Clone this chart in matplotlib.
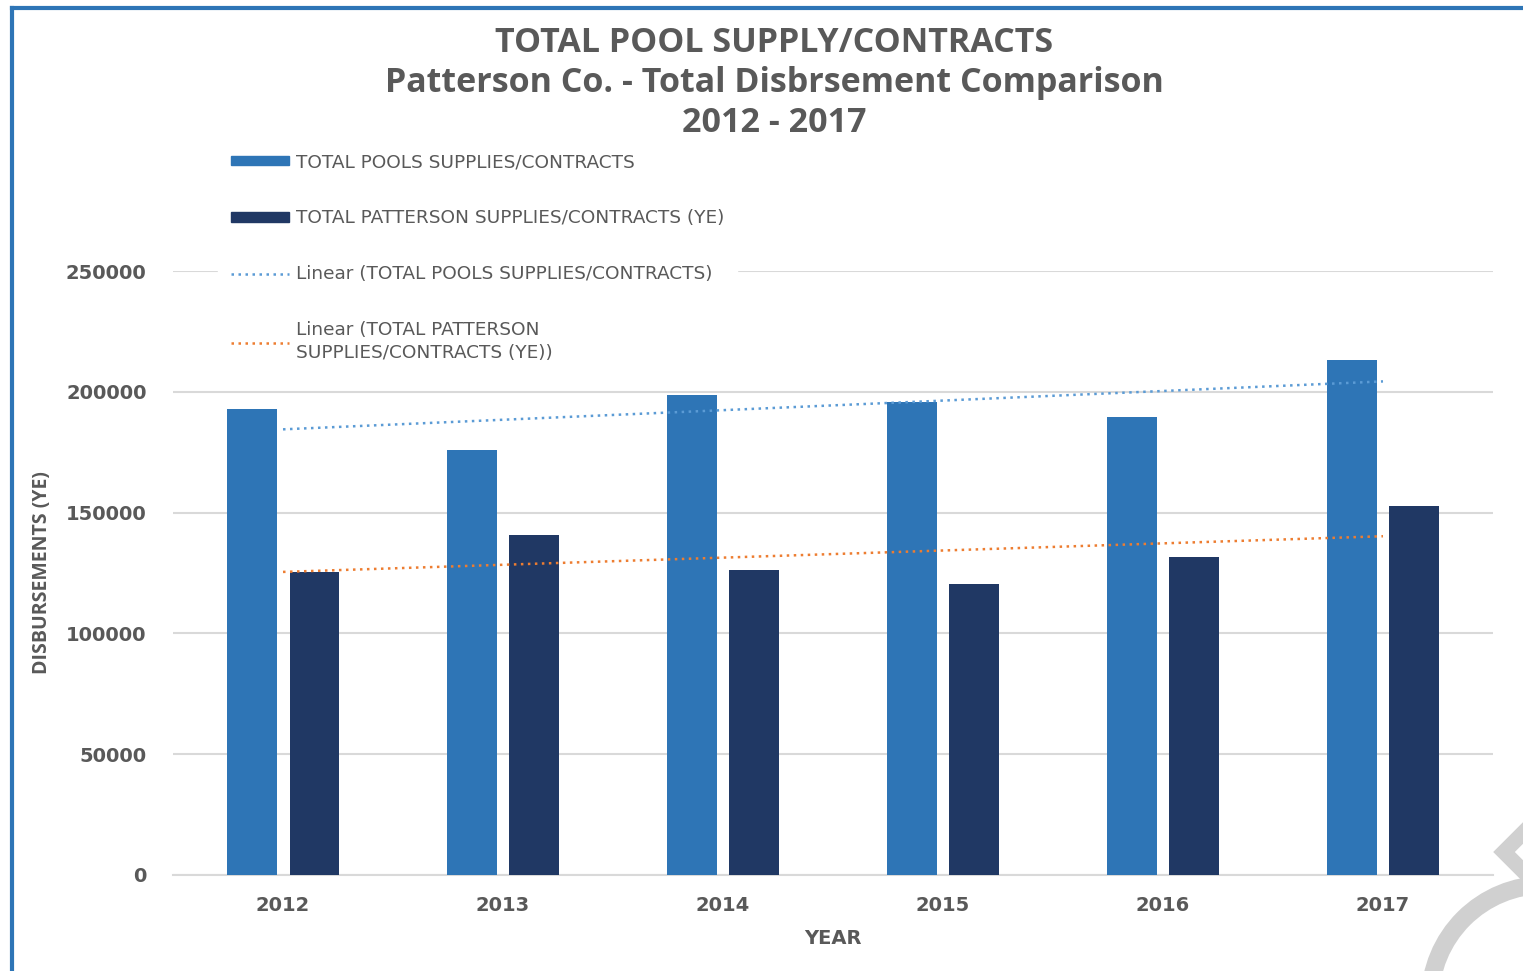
import numpy as np
import matplotlib
matplotlib.use('Agg')
import matplotlib.pyplot as plt
from matplotlib.lines import Line2D
from matplotlib.patches import Patch, Ellipse

# data
years = ['2012', '2013', '2014', '2015', '2016', '2017']
pools = [193000, 176000, 198700, 195800, 189600, 213200]
patterson = [125400, 140700, 126200, 120400, 131600, 152700]

title_lines = ['TOTAL POOL SUPPLY/CONTRACTS',
               'Patterson Co. - Total Disbrsement Comparison',
               '2012 - 2017']
label_pools = 'TOTAL POOLS SUPPLIES/CONTRACTS'
label_pat = 'TOTAL PATTERSON SUPPLIES/CONTRACTS (YE)'
label_lin_pools = 'Linear (TOTAL POOLS SUPPLIES/CONTRACTS)'
label_lin_pat = 'Linear (TOTAL PATTERSON\nSUPPLIES/CONTRACTS (YE))'

c_pools = '#2E75B6'
c_pat = '#203864'
c_tr_pools = '#5B9BD5'
c_tr_pat = '#ED7D31'
grey = '#595959'

fig = plt.figure(figsize=(15.23, 9.71), dpi=100)
ax = fig.add_axes([0.1136, 0.0989, 0.8667, 0.622])

x = np.arange(len(years))
w = 0.225
ax.bar(x - 0.142, pools, width=w, color=c_pools, zorder=3)
ax.bar(x + 0.142, patterson, width=w, color=c_pat, zorder=3)

# linear trendlines (least squares fit, like Excel)
k1, b1 = np.polyfit(x, pools, 1)
k2, b2 = np.polyfit(x, patterson, 1)
ax.plot(x, k1 * x + b1, color=c_tr_pools, lw=1.8, ls=(0, (1, 1.8)), zorder=4)
ax.plot(x, k2 * x + b2, color=c_tr_pat, lw=1.8, ls=(0, (1, 1.8)), zorder=4)

ax.set_xlim(-0.5, 5.5)
ax.set_ylim(0, 250000)
ax.set_yticks(range(0, 250001, 50000))
ax.set_xticks(x)
ax.set_xticklabels(years)
ax.grid(axis='y', color='#d9d9d9', lw=1.5, zorder=0)
for s in ['top', 'right', 'left']:
    ax.spines[s].set_visible(False)
ax.spines['bottom'].set_color('#d9d9d9')
ax.spines['bottom'].set_linewidth(1.5)
ax.tick_params(length=0, labelsize=14, labelcolor=grey)
ax.tick_params(axis='x', pad=15)
ax.tick_params(axis='y', pad=19)
for t in ax.get_xticklabels() + ax.get_yticklabels():
    t.set_fontweight('bold')

ax.set_ylabel('DISBURSEMENTS (YE)', fontsize=14, color=grey, family='Open Sans', fontweight='bold')
ax.yaxis.set_label_coords(-0.0917, 0.5)
ax.set_xlabel('YEAR', fontsize=14, color=grey, fontweight='bold')
ax.xaxis.set_label_coords(0.5, -0.089)

handles = [Patch(color=c_pools), Patch(color=c_pat),
           Line2D([], [], color=c_tr_pools, lw=1.8, ls=(0, (1, 1.8))),
           Line2D([], [], color=c_tr_pat, lw=1.8, ls=(0, (1, 1.8)))]
leg = ax.legend(handles, [label_pools, label_pat, label_lin_pools, label_lin_pat],
                loc='upper left', bbox_to_anchor=(218 / 1523, 1 - 140 / 971),
                bbox_transform=fig.transFigure, borderaxespad=0,
                fontsize=13.3, frameon=True, framealpha=1, edgecolor='white',
                facecolor='white', fancybox=False, handlelength=3.1, handleheight=0.42,
                handletextpad=0.38, labelspacing=2.06, borderpad=0.72)
leg.set_zorder(5)
for t in leg.get_texts():
    t.set_color(grey)
    t.set_linespacing(1.3)

for i, line in enumerate(title_lines):
    fig.text(774 / 1523, 1 - (43 + 40 * i) / 971, line, ha='center', va='center',
             fontsize=24.5, fontweight='bold', color=grey, family='Open Sans')

# chart border
fig.add_artist(Line2D([12 / 1523, 12 / 1523], [0, 1 - 8 / 971], color=c_pools, lw=3, transform=fig.transFigure))
fig.add_artist(Line2D([12 / 1523, 1], [1 - 8 / 971, 1 - 8 / 971], color=c_pools, lw=3, transform=fig.transFigure))

# grey mark at bottom right
fig.add_artist(Ellipse((1545 / 1523, 1 - 1000 / 971), 230 / 1523, 230 / 971, fill=False,
                       edgecolor='#d0d0d0', lw=13, transform=fig.transFigure))
fig.add_artist(Line2D([1534 / 1523, 1504 / 1523, 1534 / 1523],
                      [1 - 822 / 971, 1 - 852 / 971, 1 - 882 / 971],
                      color='#d0d0d0', lw=11, solid_joinstyle='miter', transform=fig.transFigure))

fig.savefig('out.png', dpi=100)
